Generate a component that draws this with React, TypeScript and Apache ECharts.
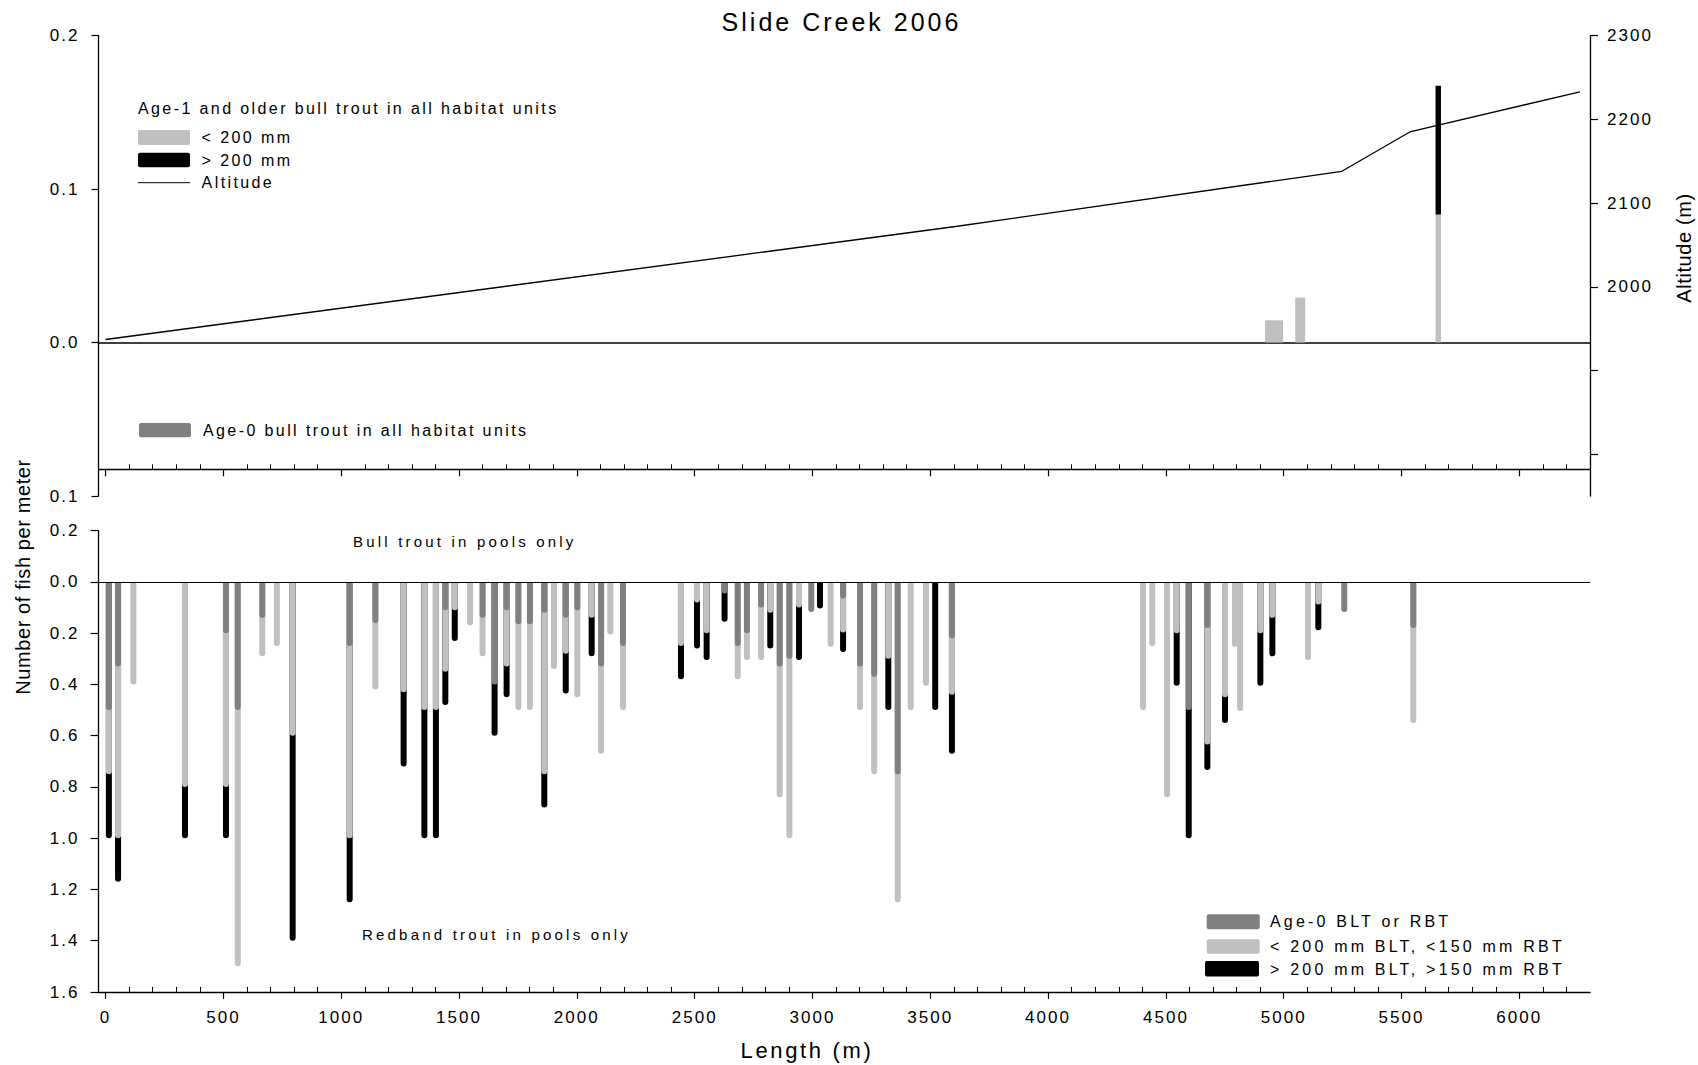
import React, { useEffect, useRef } from "react";
import * as echarts from "echarts";

// ---------- DATA ----------
// Bottom panel: pools only (length along stream, m) and fish per meter (segment sizes)
const poolLength = [14, 53, 118, 337, 511, 561, 665, 727, 794, 1036, 1145, 1265, 1353, 1402, 1442, 1482, 1547, 1600, 1651, 1702, 1752, 1801, 1862, 1903, 1953, 2002, 2063, 2103, 2142, 2196, 2442, 2510, 2551, 2627, 2683, 2722, 2782, 2821, 2861, 2902, 2943, 2995, 3032, 3077, 3130, 3202, 3262, 3322, 3362, 3417, 3482, 3521, 3592, 4403, 4442, 4505, 4546, 4597, 4676, 4751, 4793, 4815, 4901, 4952, 5103, 5147, 5257, 5550];
const age0 = [0.5, 0.33, 0, 0, 0.2, 0.5, 0.14, 0, 0, 0.25, 0.16, 0, 0, 0, 0.11, 0, 0, 0.14, 0.4, 0.11, 0.165, 0.165, 0.12, 0, 0.14, 0.11, 0, 0.33, 0, 0.25, 0, 0, 0, 0.045, 0.25, 0.2, 0.1, 0, 0.33, 0.3, 0, 0.117, 0, 0, 0.065, 0.33, 0.37, 0, 0.75, 0, 0, 0, 0.22, 0, 0, 0, 0, 0.5, 0.18, 0, 0, 0, 0, 0, 0, 0, 0.117, 0.18];
const smallFish = [0.25, 0.67, 0.4, 0.8, 0.6, 1.0, 0.15, 0.25, 0.6, 0.75, 0.26, 0.43, 0.5, 0.5, 0.24, 0.11, 0.17, 0.15, 0, 0.22, 0.335, 0.335, 0.63, 0.34, 0.14, 0.34, 0.14, 0.34, 0.205, 0.25, 0.25, 0.08, 0.2, 0, 0.13, 0.105, 0.205, 0.12, 0.51, 0.7, 0.1, 0, 0, 0.253, 0.132, 0.17, 0.38, 0.3, 0.5, 0.5, 0.405, 0, 0.22, 0.5, 0.25, 0.84, 0.2, 0, 0.454, 0.45, 0.253, 0.504, 0.2, 0.14, 0.305, 0.088, 0, 0.37];
const largeFish = [0.25, 0.17, 0, 0.2, 0.2, 0, 0, 0, 0.8, 0.25, 0, 0.29, 0.5, 0.5, 0.13, 0.12, 0, 0, 0.2, 0.12, 0, 0, 0.13, 0, 0.155, 0, 0.15, 0, 0, 0, 0.13, 0.18, 0.105, 0.11, 0, 0, 0, 0.14, 0, 0, 0.205, 0, 0.104, 0, 0.076, 0, 0, 0.2, 0, 0, 0, 0.5, 0.23, 0, 0, 0, 0.205, 0.5, 0.1, 0.1, 0, 0, 0.205, 0.15, 0, 0.1, 0, 0];

// Top panel: age-1 and older bull trout in all habitat units
const unitCenter = [4959, 5070, 5656];
const unitLength = [76, 42, 23];
const unitSmall = [0.0145, 0.0293, 0.0834];
const unitLarge = [0, 0, 0.0839];

// Altitude profile (m along stream, altitude m)
const altLength = [0, 3607, 5247, 5535, 6257];
const altitude = [1937, 2072, 2138, 2185, 2233];

// Tick labels
const xMajorTicks = [0, 500, 1000, 1500, 2000, 2500, 3000, 3500, 4000, 4500, 5000, 5500, 6000];
const altTicks = [1800, 1900, 2000, 2100, 2200, 2300];
const altLabels = [2000, 2100, 2200, 2300];

// ---------- STYLE ----------
const FA = "Liberation Sans, sp20, sans-serif";
const FD = "Liberation Sans, sp15, sans-serif";
const FB = "Liberation Sans, sp12, sans-serif";
const FC = "Liberation Sans, sp03, sans-serif";
const C_DARK = "#808080";
const C_LIGHT = "#c0c0c0";
const C_BLACK = "#000000";

const css = `
.chartbox svg { letter-spacing: 0.2em; }
.chartbox [style*="sp15"] { letter-spacing: 0.15em; }
.chartbox [style*="sp12"] { letter-spacing: 0.12em; }
.chartbox [style*="sp03"] { letter-spacing: 0.03em; }
`;

const GL = 98.5;
const GW = 1491.5;

function xAxisCommon(gridIndex: number, showLabels: boolean) {
  return {
    type: "value",
    gridIndex,
    min: -30,
    max: 6300,
    splitNumber: 13,
    position: "bottom",
    axisLine: { show: true, onZero: false, lineStyle: { color: "#000", width: 1.3 } },
    axisTick: { show: true, customValues: xMajorTicks, length: 7, lineStyle: { color: "#000", width: 1.2 } },
    minorTick: { show: true, splitNumber: 5, length: -5, lineStyle: { color: "#000", width: 1 } },
    axisLabel: {
      show: showLabels,
      customValues: xMajorTicks,
      margin: 17,
      fontSize: 17,
      fontFamily: FB,
      color: "#000",
      formatter: (v: number) => String(v),
    },
    splitLine: { show: false },
  };
}

function t(text: string, x: number, y: number, size: number, family: string, align = "left", rotation = 0) {
  return {
    type: "text",
    x,
    y,
    rotation,
    z: 100,
    style: {
      text,
      fill: "#000",
      fontSize: size,
      fontFamily: family,
      align,
      verticalAlign: "middle",
      textAlign: align,
      textVerticalAlign: "middle",
    },
  };
}

function r(x: number, y: number, w: number, h: number, fill: string) {
  return { type: "rect", z: 100, shape: { x, y, width: w, height: h, r: 2 }, style: { fill } };
}

export default function App() {
  const ref = useRef<HTMLDivElement>(null);
  useEffect(() => {
    const chart = echarts.init(ref.current as HTMLDivElement, null, { renderer: "svg" });
    const topData = unitCenter.map((c, i) => [c, unitLength[i], unitSmall[i], unitLarge[i]]);
    // cumulative depths of each stacked segment (drawn overlapping, deepest first)
    const depthAge0 = poolLength.map((m, i) => [m, age0[i] > 0 ? -age0[i] : null]);
    const depthSmall = poolLength.map((m, i) => [m, smallFish[i] > 0 ? -(age0[i] + smallFish[i]) : null]);
    const depthLarge = poolLength.map((m, i) => [m, largeFish[i] > 0 ? -(age0[i] + smallFish[i] + largeFish[i]) : null]);
    const barCommon = { xAxisIndex: 1, yAxisIndex: 2, barWidth: 6, barGap: "-100%" };
    const option: any = {
      animation: false,
      backgroundColor: "#fff",
      textStyle: { fontFamily: FA },
      grid: [
        { left: GL, top: 35.7, width: GW, height: 460.3, outerBoundsMode: "none", containLabel: false },
        { left: GL, top: 530.7, width: GW, height: 461.3, outerBoundsMode: "none", containLabel: false },
        { left: GL, top: 450, width: GW, height: 19.3, outerBoundsMode: "none", containLabel: false },
      ],
      xAxis: [
        {
          type: "value",
          gridIndex: 0,
          min: -30,
          max: 6300,
          axisLine: { show: true, onZero: true, onZeroAxisIndex: 0, lineStyle: { color: "#000", width: 1.6 } },
          axisTick: { show: false },
          axisLabel: { show: false },
          splitLine: { show: false },
        },
        xAxisCommon(1, true),
        xAxisCommon(2, false),
      ],
      yAxis: [
        {
          type: "value",
          gridIndex: 0,
          position: "left",
          min: -0.1,
          max: 0.2,
          interval: 0.1,
          axisLine: { show: true, onZero: false, lineStyle: { color: "#000", width: 1.3 } },
          axisTick: { show: true, length: 7, lineStyle: { color: "#000", width: 1.2 } },
          axisLabel: {
            margin: 19,
            fontSize: 17,
            fontFamily: FB,
            color: "#000",
            formatter: (v: number) => Math.abs(v).toFixed(1),
          },
          splitLine: { show: false },
        },
        {
          type: "value",
          gridIndex: 0,
          position: "right",
          min: 1750,
          max: 2300,
          axisLine: { show: true, onZero: false, lineStyle: { color: "#000", width: 1.3 } },
          axisTick: { show: true, customValues: altTicks, length: 8, lineStyle: { color: "#000", width: 1.2 } },
          axisLabel: {
            customValues: altLabels,
            margin: 17,
            fontSize: 17,
            fontFamily: FB,
            color: "#000",
            formatter: (v: number) => String(v),
          },
          splitLine: { show: false },
        },
        {
          type: "value",
          gridIndex: 1,
          position: "left",
          min: -1.6,
          max: 0.2,
          interval: 0.2,
          axisLine: { show: true, onZero: false, lineStyle: { color: "#000", width: 1.3 } },
          axisTick: { show: true, length: 8, lineStyle: { color: "#000", width: 1.2 } },
          axisLabel: {
            margin: 19,
            fontSize: 17,
            fontFamily: FB,
            color: "#000",
            formatter: (v: number) => Math.abs(v).toFixed(1),
          },
          splitLine: { show: false },
        },
        { type: "value", gridIndex: 2, min: 0, max: 1, show: false },
      ],
      series: [
        {
          type: "custom",
          name: "Age-1 and older bull trout",
          coordinateSystem: "cartesian2d",
          xAxisIndex: 0,
          yAxisIndex: 0,
          encode: { x: 0, y: 2 },
          data: topData,
          z: 2,
          renderItem: (params: any, api: any) => {
            const c = api.value(0);
            const len = api.value(1);
            const small = api.value(2);
            const large = api.value(3);
            const p0 = api.coord([c - len / 2, 0]);
            const p1 = api.coord([c + len / 2, small]);
            const p2 = api.coord([c + len / 2, small + large]);
            const w = p1[0] - p0[0];
            const children: any[] = [
              { type: "rect", shape: { x: p0[0], y: p1[1], width: w, height: p0[1] - p1[1] }, style: { fill: C_LIGHT } },
            ];
            if (large > 0) {
              children.push({ type: "rect", shape: { x: p0[0], y: p2[1], width: w, height: p1[1] - p2[1] }, style: { fill: C_BLACK } });
            }
            return { type: "group", children };
          },
        },
        {
          type: "line",
          name: "Altitude",
          xAxisIndex: 0,
          yAxisIndex: 1,
          data: altLength.map((m, i) => [m, altitude[i]]),
          symbol: "none",
          lineStyle: { color: "#000", width: 1.3 },
          z: 3,
        },
        {
          type: "bar",
          name: "> 200 mm BLT, >150 mm RBT",
          ...barCommon,
          data: depthLarge,
          itemStyle: { color: C_BLACK, borderRadius: [0, 0, 3, 3] },
          markLine: {
            silent: true,
            symbol: "none",
            label: { show: false },
            lineStyle: { color: "#000", width: 1.2, type: "solid" },
            data: [{ yAxis: 0 }],
          },
        },
        {
          type: "bar",
          name: "< 200 mm BLT, <150 mm RBT",
          ...barCommon,
          data: depthSmall,
          itemStyle: { color: C_LIGHT, borderRadius: [0, 0, 3, 3] },
        },
        {
          type: "bar",
          name: "Age-0 BLT or RBT",
          ...barCommon,
          data: depthAge0,
          itemStyle: { color: C_DARK, borderRadius: [0, 0, 3, 3] },
        },
      ],
      graphic: [
        t("Slide Creek 2006", 841.5, 21.7, 25, FB, "center"),
        // top legend
        t("Age-1 and older bull trout in all habitat units", 138, 108, 16, FD),
        r(138, 130, 52, 15, C_LIGHT),
        t("< 200 mm", 201.6, 137.5, 16, FD),
        r(138, 152.7, 52, 14.6, C_BLACK),
        t("> 200 mm", 201.6, 160, 16, FD),
        { type: "line", z: 100, shape: { x1: 138, y1: 182.7, x2: 190, y2: 182.7 }, style: { stroke: "#000", lineWidth: 1 } },
        t("Altitude", 201.6, 182.7, 16, FD),
        r(139, 423, 52, 14.3, C_DARK),
        t("Age-0 bull trout in all habitat units", 203, 430, 16, FD),
        // bottom annotations
        t("Bull trout in pools only", 353, 541.5, 15, FA),
        t("Redband trout in pools only", 362, 934.6, 15, FA),
        // bottom legend
        r(1206.7, 914.3, 53, 15, C_DARK),
        t("Age-0 BLT or RBT", 1270, 921.8, 16, FA),
        r(1206.7, 939.3, 53, 14.5, C_LIGHT),
        t("< 200 mm BLT, <150 mm RBT", 1270, 946.3, 16, FA),
        r(1205, 961, 54, 15.5, C_BLACK),
        t("> 200 mm BLT, >150 mm RBT", 1270, 969, 16, FA),
        // axis titles
        t("Length (m)", 807, 1050.5, 22, FB, "center"),
        t("Number of fish per meter", 22.5, 577, 20, FC, "center", Math.PI / 2),
        t("Altitude (m)", 1684, 248, 20, FC, "center", Math.PI / 2),
      ],
    };
    chart.setOption(option);
    return () => chart.dispose();
  }, []);
  return (
    <>
      <style>{css}</style>
      <div
        ref={ref}
        className="chartbox"
        style={{ position: "absolute", left: 0, top: 0, width: 1698, height: 1065, background: "#fff" }}
      />
    </>
  );
}
